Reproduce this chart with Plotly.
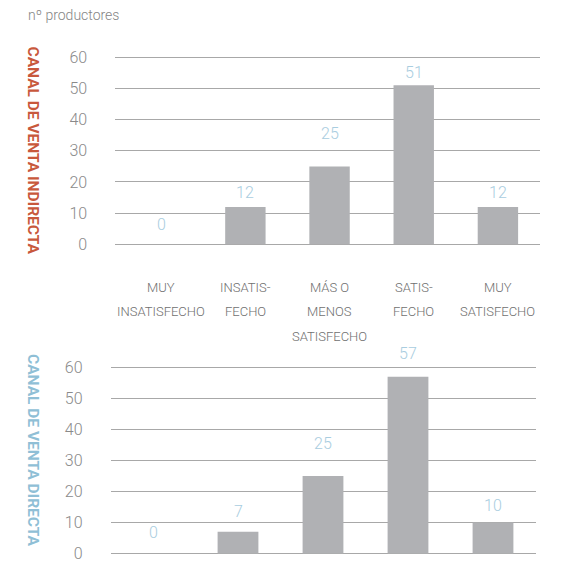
import plotly.graph_objects as go

categories = ["MUY INSATISFECHO", "INSATISFECHO", "MÁS O MENOS SATISFECHO", "SATISFECHO", "MUY SATISFECHO"]
category_lines = [["MUY", "INSATISFECHO"], ["INSATIS-", "FECHO"], ["MÁS O", "MENOS", "SATISFECHO"], ["SATIS-", "FECHO"], ["MUY", "SATISFECHO"]]
indirecta = [0, 12, 25, 51, 12]
directa = [0, 7, 25, 57, 10]
y_ticks = [0, 10, 20, 30, 40, 50, 60]

W, H = 570, 561
BAR = "#b0b1b4"
GRID = "#a8a8a8"
TICK = "#8a8a8a"
LABEL = "#a9cde0"
FONT = "Roboto"
PAD = 0.5

fig = go.Figure()
fig.add_trace(go.Bar(x=categories, y=indirecta, marker=dict(color=BAR, line=dict(width=0)),
                     xaxis="x", yaxis="y", hoverinfo="skip"))
fig.add_trace(go.Bar(x=categories, y=directa, marker=dict(color=BAR, line=dict(width=0)),
                     xaxis="x2", yaxis="y2", hoverinfo="skip"))

def ydomain(p60, p0):
    per = (p0 - p60) / 60.0
    return [1 - (p0 + PAD * per) / H, 1 - (p60 - PAD * per) / H]

def yaxis(domain, anchor):
    return dict(domain=domain, anchor=anchor, range=[-PAD, 60 + PAD], tickvals=y_ticks, showgrid=True,
                gridcolor=GRID, gridwidth=1.3, zeroline=False, showline=False, ticks="",
                tickfont=dict(family=FONT, size=16, color=TICK, weight=300), ticklabelstandoff=27,
                ticklabeloverflow="allow", fixedrange=True, automargin=False)

def xaxis(domain, anchor):
    return dict(domain=domain, anchor=anchor, showticklabels=False, showgrid=False, zeroline=False,
                showline=False, ticks="", fixedrange=True, automargin=False)

ann = []
for xref, yref, vals, shifts in [("x", "y", indirecta, [20, 14, 33, 13, 14]), ("x2", "y2", directa, [21, 20, 33, 23, 17])]:
    for c, v, s in zip(categories, vals, shifts):
        ann.append(dict(x=c, y=v, xref=xref, yref=yref, text=str(v), showarrow=False, yshift=s,
                        yanchor="middle", font=dict(family=FONT, size=16, color=LABEL, weight=300)))

for c, lines in zip(categories, category_lines):
    for i, t in enumerate(lines):
        ann.append(dict(x=c, xref="x", yref="paper", y=1 - (287 + 24.5 * i) / H, text=t, showarrow=False,
                        yanchor="middle", font=dict(family=FONT, size=13, color="#707070", weight=300)))

ann.append(dict(x=26 / W, y=1 - 15 / H, xref="paper", yref="paper", xanchor="left", yanchor="middle",
                text="nº productores", showarrow=False,
                font=dict(family=FONT, size=14, color="#858585", weight=300)))
ann.append(dict(x=33 / W, y=1 - 150.5 / H, xref="paper", yref="paper", textangle=90, showarrow=False,
                xanchor="center", yanchor="middle",
                text="<b>CANAL DE VENTA INDIRECTA</b>", font=dict(family=FONT, size=15.5, color="#c8583c")))
ann.append(dict(x=33 / W, y=1 - 450 / H, xref="paper", yref="paper", textangle=90, showarrow=False,
                xanchor="center", yanchor="middle",
                text="<b>CANAL DE VENTA DIRECTA</b>", font=dict(family=FONT, size=15.5, color="#8fbfd6")))

fig.update_layout(
    width=W, height=H, margin=dict(l=0, r=0, t=0, b=0, autoexpand=False),
    paper_bgcolor="white", plot_bgcolor="white", showlegend=False, bargap=0.52,
    xaxis=xaxis([115.2 / W, 540 / W], "y"),
    yaxis=yaxis(ydomain(57.3, 244.3), "x"),
    xaxis2=xaxis([110.5 / W, 535.5 / W], "y2"),
    yaxis2=yaxis(ydomain(367.5, 553.5), "x2"),
    annotations=ann,
)

fig.write_html("out.html", config={"displayModeBar": False})
